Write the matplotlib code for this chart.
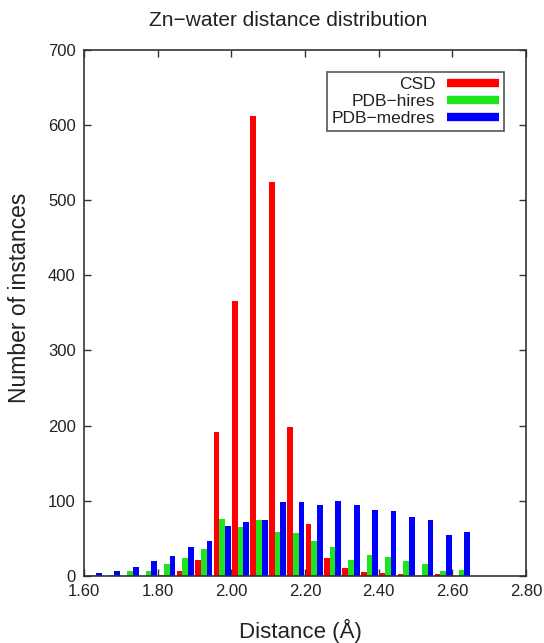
import matplotlib
matplotlib.use('Agg')
import matplotlib.pyplot as plt
from matplotlib.lines import Line2D
import numpy as np

plt.rcParams['font.family'] = ['Liberation Sans', 'DejaVu Sans']

# bin centres (A) and counts per bin
bins = [1.625, 1.675, 1.725, 1.775, 1.825, 1.875, 1.925, 1.975, 2.025, 2.075, 2.125,
        2.175, 2.225, 2.275, 2.325, 2.375, 2.425, 2.475, 2.525, 2.575, 2.625]
csd = [0, 0, 0, 0, 1, 6, 21, 192, 366, 612, 524,
       198, 69, 24, 11, 5, 4, 2, 0, 2, 0]
pdb_hires = [1, 1, 6, 6, 16, 24, 36, 76, 65, 75, 58,
             57, 47, 39, 21, 28, 25, 20, 16, 6, 8]
pdb_medres = [4, 6, 12, 20, 26, 39, 47, 66, 72, 74, 99,
              99, 94, 100, 94, 88, 87, 78, 75, 55, 59]

series = [("CSD", csd, "#ff0000"),
          ("PDB\u2212hires", pdb_hires, "#1ee61e"),
          ("PDB\u2212medres", pdb_medres, "#0000ff")]

fig = plt.figure(figsize=(5.44, 6.43), dpi=100)
ax = fig.add_axes([84 / 544, 1 - 576 / 643, 442 / 544, (576 - 49.5) / 643])

x = np.array(bins)
w = 0.0155
handles = []
for i, (name, vals, col) in enumerate(series):
    ax.bar(x + (i - 1) * w, vals, width=w, color=col, linewidth=0, zorder=2)
    handles.append(Line2D([], [], color=col, lw=6, solid_capstyle='butt', label=name))

ax.set_xlim(1.6, 2.8)
ax.set_ylim(0, 700)
ax.set_xticks(np.arange(1.6, 2.81, 0.2))
ax.set_xticklabels(["%.2f" % t for t in np.arange(1.6, 2.81, 0.2)])
ax.set_yticks(range(0, 701, 100))
ax.set_axisbelow(True)
ax.tick_params(direction='in', length=5, width=1, color='#333333', top=True, right=True,
               labelsize=12, labelcolor='#222222', pad=6)
for s in ax.spines.values():
    s.set_color('#333333')
    s.set_linewidth(1.2)
    s.set_zorder(3)

fig.text(288 / 544, 1 - 20 / 643, "Zn\u2212water distance distribution",
         ha='center', va='center', fontsize=15, color='#222222')
fig.text(300 / 544, 1 - 638 / 643, "Distance (\u00c5)", ha='center', va='baseline',
         fontsize=16, color='#222222')
fig.text(20 / 544, 1 - 298 / 643, "Number of instances", ha='center', va='center',
         rotation=90, fontsize=16.5, color='#222222')

leg = ax.legend(handles=handles, loc='upper right', bbox_to_anchor=(0.95, 0.958),
                markerfirst=False, fontsize=12.5, handlelength=3.0, handletextpad=0.65,
                labelspacing=0.1, borderpad=0.3, borderaxespad=0, fancybox=False,
                framealpha=1, edgecolor='#555555')
leg.get_frame().set_linewidth(1.2)
for t in leg.get_texts():
    t.set_color('#222222')

fig.savefig('out.png', dpi=100)
